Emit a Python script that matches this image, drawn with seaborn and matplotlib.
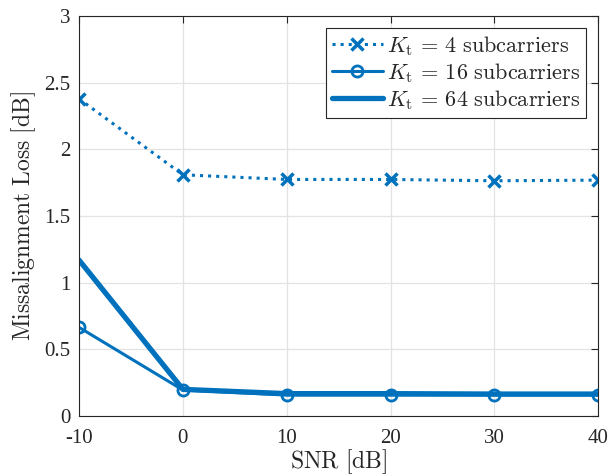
import matplotlib
matplotlib.use("Agg")
import matplotlib.pyplot as plt
import seaborn as sns
import pandas as pd

snr = [-10, 0, 10, 20, 30, 40]
loss_k4 = [2.38, 1.81, 1.775, 1.775, 1.765, 1.77]
loss_k16 = [0.665, 0.195, 0.157, 0.157, 0.157, 0.157]
loss_k64 = [1.17, 0.20, 0.168, 0.168, 0.165, 0.165]
labels = [r'$K_{\mathrm{t}}\,=\,4\ \mathrm{subcarriers}$',
          r'$K_{\mathrm{t}}\,=\,16\ \mathrm{subcarriers}$',
          r'$K_{\mathrm{t}}\,=\,64\ \mathrm{subcarriers}$']
x_ticks = [-10, 0, 10, 20, 30, 40]
y_ticks = [0, 0.5, 1, 1.5, 2, 2.5, 3]
y_ticklabels = ['0', '0.5', '1', '1.5', '2', '2.5', '3']
x_label = r'$\mathrm{SNR\ [dB]}$'
y_label = r'$\mathrm{Missalignment\ Loss\ [dB]}$'

sns.set_theme(style="whitegrid")
plt.rcParams['font.family'] = ['Liberation Serif', 'DejaVu Serif']
plt.rcParams['mathtext.fontset'] = 'cm'

color = '#0072BD'
fig = plt.figure(figsize=(6.13, 4.76), dpi=100)
ax = fig.add_axes([0.129, 0.126, 0.847, 0.840])

sns.lineplot(x=snr, y=loss_k4, ax=ax, color=color, linestyle=':', linewidth=2.2,
             marker='x', markersize=9, markeredgewidth=2.5, markeredgecolor=color,
             label=labels[0])
sns.lineplot(x=snr, y=loss_k16, ax=ax, color=color, linestyle='-', linewidth=2.2,
             marker='o', markersize=8, markeredgewidth=2.0, markerfacecolor='none',
             markeredgecolor=color, label=labels[1])
sns.lineplot(x=snr, y=loss_k64, ax=ax, color=color, linestyle='-', linewidth=3.8,
             label=labels[2])

ax.set_xlim(-10, 40)
ax.set_ylim(0, 3)
ax.set_xticks(x_ticks)
ax.set_xticklabels([str(t) for t in x_ticks])
ax.set_yticks(y_ticks)
ax.set_yticklabels(y_ticklabels)
ax.grid(True, color='#e3e3e3', linewidth=0.9)
for s in ax.spines.values():
    s.set_color('#262626')
    s.set_linewidth(0.8)
ax.tick_params(axis='both', which='both', direction='in', length=5, width=0.8,
               colors='#262626', labelsize=15, top=True, right=True,
               labelcolor='#262626')
ax.tick_params(axis='x', pad=9)
ax.tick_params(axis='y', pad=6)
ax.set_xlabel(x_label, fontsize=17, color='#262626', labelpad=0)
ax.set_ylabel(y_label, fontsize=17, color='#262626', labelpad=5)

leg = ax.legend(loc='upper right', fontsize=16, frameon=True, fancybox=False,
                edgecolor='#262626', framealpha=1, handlelength=2.3,
                borderpad=0.25, labelspacing=0.15, handletextpad=0.2,
                borderaxespad=0.55)
leg.get_frame().set_linewidth(0.8)

fig.savefig('out.png', dpi=100)
